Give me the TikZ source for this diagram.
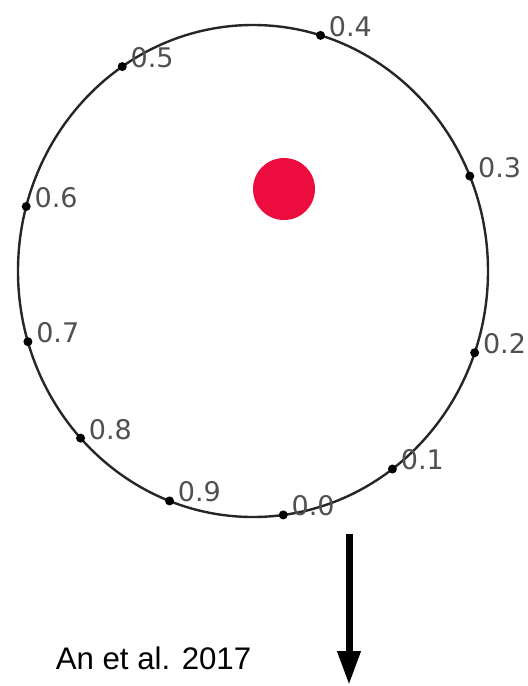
\documentclass[tikz,border=0pt]{standalone}
\usepackage{fontspec}
\setmainfont{Liberation Sans}
\newfontfamily\lblfont{DejaVu Sans}
\usepackage{tikz}
\usetikzlibrary{arrows.meta, positioning, calc}
\definecolor{dotred}{RGB}{236,12,62}
\definecolor{lblgray}{HTML}{505050}

\tikzset{
  rimdot/.style={circle, fill=black, inner sep=0pt, minimum size=4.5pt},
  ticklbl/.style={anchor=base west, inner sep=0pt, text=lblgray, font=\lblfont\fontsize{13.5}{15}\selectfont},
}

\begin{document}
\begin{tikzpicture}[x=0.5pt, y=-0.5pt]
  \useasboundingbox (0,0) rectangle (527,686);
  % the ring
  \coordinate (mid) at (253,271);
  \draw[line width=1.2pt, black!85] (mid) ellipse [x radius=235, y radius=246];
  % points on the ring
  \foreach \i/\a in {0/82.6, 1/53.6, 2/19.4, 3/-22.7, 4/-73.3,
                     5/-123.8, 6/-164.8, 7/163.3, 8/137.2, 9/110.8} {
    \node[rimdot] (p\i) at ($(mid)+(\a:235 and 246)$) {};
    \node[ticklbl, xshift=4pt, yshift=-0.5pt] (l\i) at (p\i) {0.\i};
  }
  % source
  \fill[dotred] (284,189) circle (15.5pt);
  \coordinate (arrtop) at (349,534);
  \coordinate (arrtip) at (349,685);
  \draw[line width=3.5pt, -{Triangle[length=17pt,width=11pt]}] (arrtop) -- (arrtip);
  \node[anchor=base, inner sep=0pt, font=\fontsize{15.6}{18}\selectfont] (cite) at (153.5,669) {An et al. 2017};
\end{tikzpicture}
\end{document}
